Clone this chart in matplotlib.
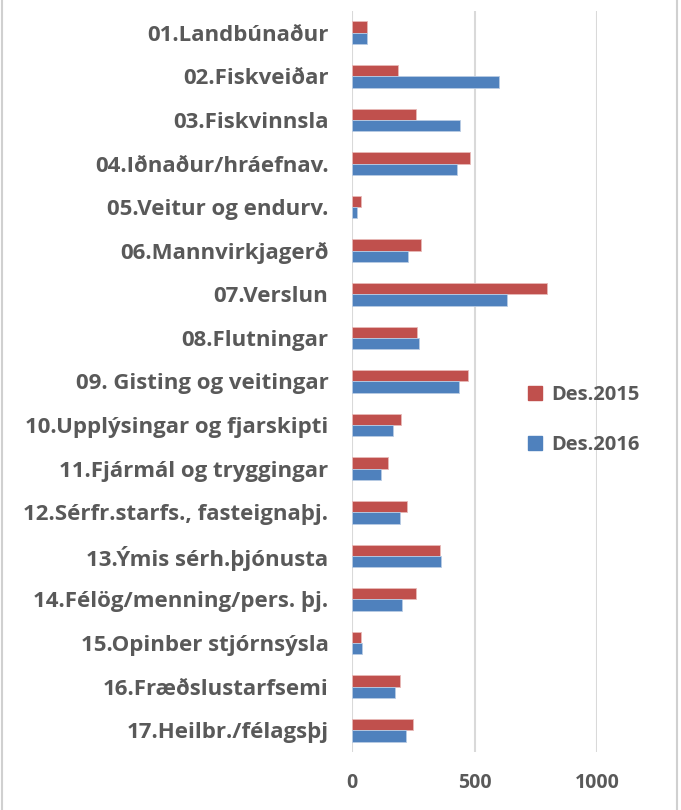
import numpy as np
import matplotlib.pyplot as plt
from matplotlib.patches import Patch
from matplotlib.lines import Line2D

# ---------------------- DATA ----------------------
categories = ['01.Landbúnaður', '02.Fiskveiðar', '03.Fiskvinnsla', '04.Iðnaður/hráefnav.',
              '05.Veitur og endurv.', '06.Mannvirkjagerð', '07.Verslun', '08.Flutningar',
              '09. Gisting og veitingar', '10.Upplýsingar og fjarskipti',
              '11.Fjármál og tryggingar', '12.Sérfr.starfs., fasteignaþj.',
              '13.Ýmis sérh.þjónusta', '14.Félög/menning/pers. þj.',
              '15.Opinber stjórnsýsla', '16.Fræðslustarfsemi', '17.Heilbr./félagsþj']
des_2015 = [60, 189, 262, 483, 38, 282, 796, 265, 473, 201, 146, 223, 361, 260, 35, 197, 248]
des_2016 = [60, 600, 441, 427, 20, 227, 634, 273, 437, 169, 120, 195, 363, 204, 42, 176, 219]
series_labels = ['Des.2015', 'Des.2016']
x_ticks = [0, 500, 1000]

# ---------------------- STYLE ----------------------
red = '#C0504D'
blue = '#4F81BD'
text_gray = '#595959'
grid_gray = '#D9D9D9'
plt.rcParams['font.family'] = ['Open Sans', 'DejaVu Sans']

W, H = 681, 810
fig = plt.figure(figsize=(W / 100, H / 100), dpi=100)
ax = fig.add_axes([352 / W, 1 - 752 / H, (597 - 352) / W, (752 - 11) / H])

y = np.arange(len(categories))
h = 0.26
ax.barh(y - h / 2, des_2015, height=h, color=red, edgecolor='#E8B9B8', linewidth=0.6, zorder=3)
ax.barh(y + h / 2, des_2016, height=h, color=blue, edgecolor='#B9CCE4', linewidth=0.6, zorder=3)

ax.set_xlim(0, 1000)
ax.set_ylim(len(categories) - 0.5, -0.5)
ax.set_yticks(y)
ax.set_yticklabels(categories, fontsize=16, fontweight='bold', color=text_gray)
ax.set_xticks(x_ticks)
ax.set_xticklabels([str(t) for t in x_ticks], fontsize=14, fontweight='bold', color=text_gray)
ax.tick_params(axis='y', length=0, pad=17)
ax.tick_params(axis='x', length=0, pad=15)

for s in ax.spines.values():
    s.set_visible(False)
ax.xaxis.grid(True, color=grid_gray, linewidth=1.5, zorder=0)
ax.set_axisbelow(True)

handles = [Patch(color=red), Patch(color=blue)]
fig.legend(handles, series_labels, loc='center left', bbox_to_anchor=(510 / W, 1 - 420 / H),
           frameon=False, prop={'weight': 'bold', 'size': 14.5},
           labelcolor=text_gray, handlelength=0.7, handleheight=0.7,
           handletextpad=0.45, labelspacing=1.5)

# chart border lines left and right
fig.add_artist(Line2D([1.5 / W, 1.5 / W], [0, 1], color='#D0D0D0', linewidth=1.5))
fig.add_artist(Line2D([676.5 / W, 676.5 / W], [0, 1], color='#D0D0D0', linewidth=1.5))

fig.savefig('out.png', dpi=100)
